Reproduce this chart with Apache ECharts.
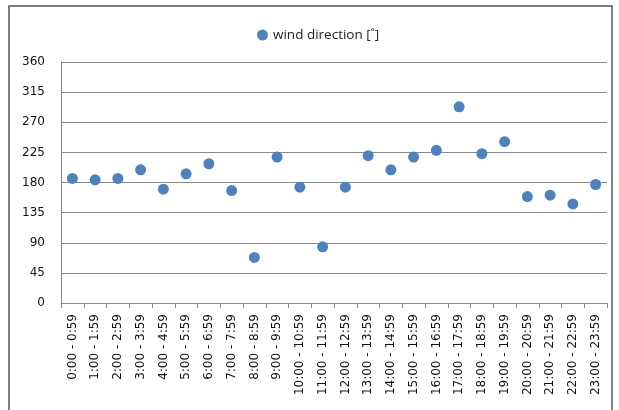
<!DOCTYPE html>
<html>
<head>
<meta charset="utf-8">
<script src="https://cdn.jsdelivr.net/npm/echarts@6/dist/echarts.min.js"></script>
<style>
  html, body { margin: 0; padding: 0; background: #fff; }
  #container { width: 619px; height: 410px; }
</style>
</head>
<body>
<div id="container"></div>
<script>
// hourly buckets
var hours = ['0:00 - 0:59', '1:00 - 1:59', '2:00 - 2:59', '3:00 - 3:59', '4:00 - 4:59',
  '5:00 - 5:59', '6:00 - 6:59', '7:00 - 7:59', '8:00 - 8:59', '9:00 - 9:59',
  '10:00 - 10:59', '11:00 - 11:59', '12:00 - 12:59', '13:00 - 13:59', '14:00 - 14:59',
  '15:00 - 15:59', '16:00 - 16:59', '17:00 - 17:59', '18:00 - 18:59', '19:00 - 19:59',
  '20:00 - 20:59', '21:00 - 21:59', '22:00 - 22:59', '23:00 - 23:59'];
var windDir = [186, 184, 186, 199, 170, 193, 208, 168, 68, 218,
  173, 84, 173, 220, 199, 218, 228, 293, 223, 241,
  159, 161, 148, 177];
var seriesName = 'wind direction [˚]';
var yMin = 0, yMax = 360, yStep = 45;

var myChart = echarts.init(document.getElementById('container'));
var option = {
  animation: false,
  graphic: [{
    type: 'rect',
    shape: { x: 9, y: 6, width: 603, height: 420 },
    style: { fill: 'none', stroke: '#555', lineWidth: 1.5 }
  }],
  legend: {
    data: [seriesName],
    left: 252,
    top: 23,
    icon: 'circle',
    itemWidth: 11,
    itemHeight: 11,
    itemGap: 4,
    textStyle: { fontFamily: 'Open Sans', fontSize: 13.5, color: '#222' }
  },
  grid: { left: 61, right: 12, top: 62, bottom: 107 },
  xAxis: {
    type: 'category',
    data: hours,
    boundaryGap: true,
    axisLine: { lineStyle: { color: '#888' } },
    axisTick: { show: true, length: 5, lineStyle: { color: '#888' } },
    axisLabel: {
      rotate: 90,
      interval: 0,
      margin: 11,
      fontFamily: 'DejaVu Sans',
      fontSize: 12,
      color: '#111'
    },
    splitLine: { show: false }
  },
  yAxis: {
    type: 'value',
    min: yMin,
    max: yMax,
    interval: yStep,
    axisLine: { show: true, lineStyle: { color: '#888' } },
    axisTick: { show: false },
    axisLabel: { margin: 16, fontFamily: 'DejaVu Sans', fontSize: 12, color: '#111' },
    splitLine: { lineStyle: { color: '#888' } }
  },
  series: [{
    name: seriesName,
    type: 'scatter',
    data: windDir,
    symbolSize: 11,
    itemStyle: { color: '#4F81BD', opacity: 1 }
  }]
};
myChart.setOption(option);
</script>
</body>
</html>
